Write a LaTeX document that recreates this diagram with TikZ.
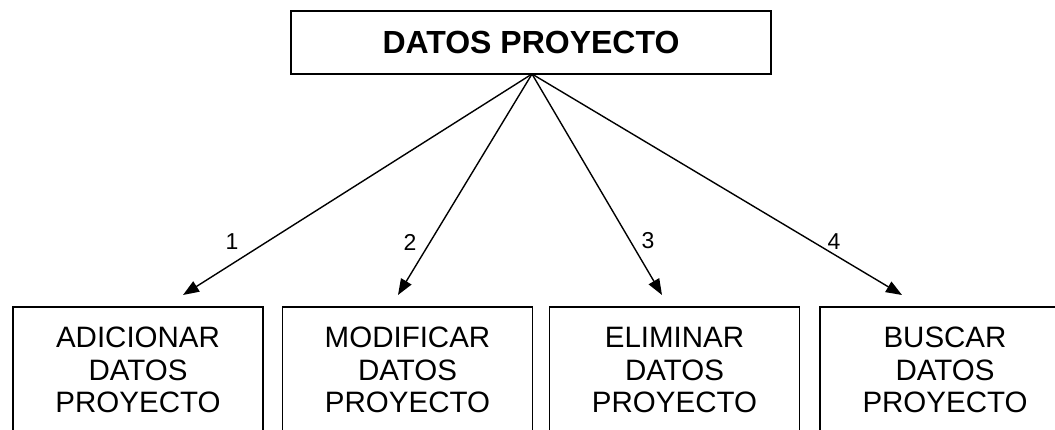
\documentclass[tikz,border=0pt]{standalone}
\usepackage{fontspec}
\setmainfont{Liberation Sans}
\usetikzlibrary{arrows.meta}
\begin{document}
\begin{tikzpicture}[x=1pt,y=-1pt,
  topbox/.style={draw,line width=2pt,minimum width=480pt,minimum height=63pt,inner sep=0pt,
    font=\fontsize{32}{38}\selectfont\bfseries},
  subbox/.style={draw,line width=1.8pt,minimum width=250pt,minimum height=126pt,inner sep=0pt,
    align=center,font=\fontsize{29.5}{32.5}\selectfont},
  conn/.style={line width=1.4pt,-{Triangle[length=16pt,width=12pt]}},
  num/.style={font=\fontsize{23}{26}\selectfont,inner sep=0pt}]
\useasboundingbox (0,0) rectangle (1055,430);
\node[topbox] (top) at (531,42.5) {DATOS PROYECTO};
\node[subbox] (b1) at (138,370) {ADICIONAR\\DATOS\\PROYECTO};
\node[subbox] (b2) at (407.5,370) {MODIFICAR\\DATOS\\PROYECTO};
\node[subbox] (b3) at (674.5,370) {ELIMINAR\\DATOS\\PROYECTO};
\node[subbox] (b4) at (945,370) {BUSCAR\\DATOS\\PROYECTO};
\coordinate (src) at (532,74);
\coordinate (t1) at (183,295);
\coordinate (t2) at (398,295);
\coordinate (t3) at (662,295);
\coordinate (t4) at (902,295);
\draw[conn] (src) -- (t1);
\draw[conn] (src) -- (t2);
\draw[conn] (src) -- (t3);
\draw[conn] (src) -- (t4);
\node[num] (n1) at (232,242) {1};
\node[num] (n2) at (410,242) {2};
\node[num] (n3) at (648,241) {3};
\node[num] (n4) at (834,242) {4};
\end{tikzpicture}
\end{document}
